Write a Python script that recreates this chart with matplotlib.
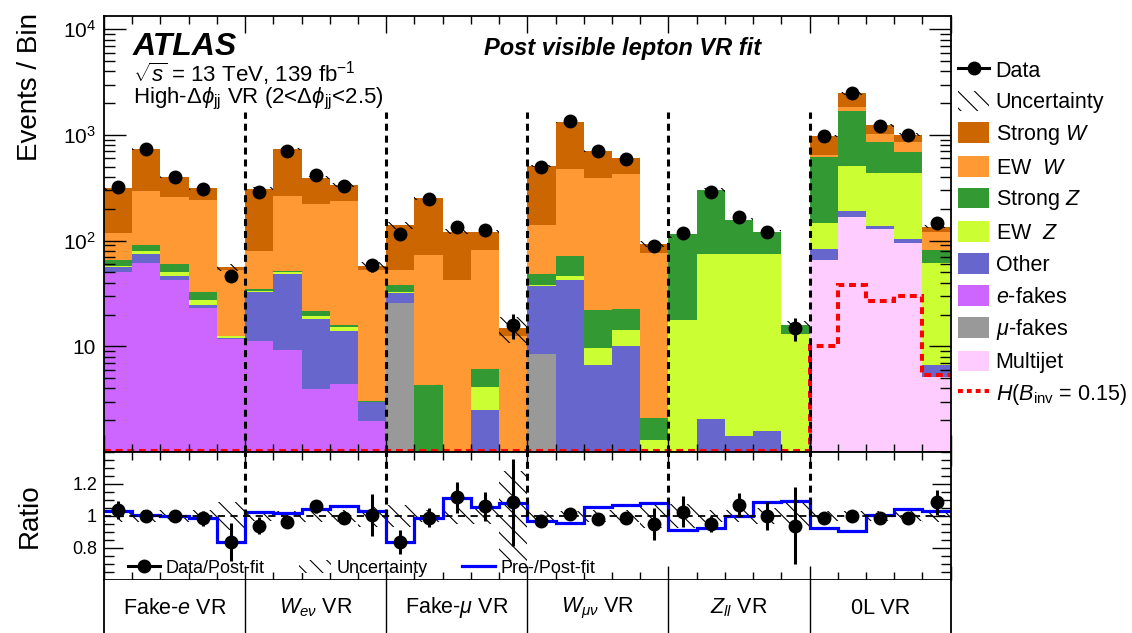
import numpy as np
import matplotlib
matplotlib.use('Agg')
import matplotlib.pyplot as plt
from matplotlib.patches import Patch
from matplotlib.lines import Line2D
from matplotlib.ticker import FixedLocator, NullFormatter, FuncFormatter, MultipleLocator, LogLocator

plt.rcParams['font.family'] = ['Liberation Sans', 'DejaVu Sans']
plt.rcParams['mathtext.fontset'] = 'custom'
plt.rcParams['mathtext.rm'] = 'Liberation Sans'
plt.rcParams['mathtext.it'] = 'Liberation Sans:italic'
plt.rcParams['mathtext.bf'] = 'Liberation Sans:bold'
plt.rcParams['hatch.linewidth'] = 0.8

# ---------------- data ----------------
regions = ["Fake-$e$ VR", r"$W_{e\nu}$ VR", r"Fake-$\mu$ VR", r"$W_{\mu\nu}$ VR", r"$Z_{ll}$ VR", "0L VR"]
bins_per_region = 5

multijet = [0]*25 + [66, 169, 129, 95, 5.1]
mu_fakes = [0]*10 + [25.7, 0, 0, 0, 0, 8.5, 0, 0, 0, 0] + [0]*10
e_fakes = [50, 61.4, 42.7, 23.2, 11.6, 11.3, 9.3, 3.95, 4.4, 1.95] + [0]*20
other = [5.8, 13.2, 3.9, 1.6, 0.5, 21.1, 39, 14.25, 9.5, 1.0,
         6.3, 0, 0, 2.47, 0, 28.4, 42, 6.7, 10.15, 0,
         0, 2.07, 1.43, 1.57, 0, 17, 23, 10, 8, 1.5]
ew_z = [2.2, 4.4, 3.4, 2.8, 0.3, 1.0, 1.7, 1.0, 1.4, 0.04,
        0.3, 0, 0, 1.66, 0, 0.8, 4, 2.9, 4.05, 1.3,
        17.6, 73, 72.6, 73.4, 13.2, 64, 318, 302, 333, 55.4]
strong_z = [7.6, 12.4, 10.5, 4.8, 0.2, 1.6, 2.0, 2.5, 0.7, 0.05,
            5.5, 4.35, 0, 2.0, 0, 11.1, 26, 12.3, 8.3, 0.8,
            97.4, 228, 84, 45, 2.6, 470, 1180, 425, 256, 19]
ew_w = [52.4, 206.6, 197.5, 207.6, 40, 44, 210, 200, 219, 50,
        14.5, 69.3, 42.7, 76, 12.4, 92, 407, 373, 406.5, 75,
        0, 0, 0, 0, 0, 32, 142, 150, 174, 41]
strong_w = [196, 442, 146, 74, 3.2, 230, 473, 173, 100, 5,
            87, 179, 79, 38, 2.5, 369, 861, 317, 175, 16,
            0, 0, 0, 0, 0, 331, 653, 214, 136, 14]

data = [325, 735, 399, 309, 46.2, 291, 705, 422, 330, 58.6,
        116, 248, 135, 127, 16.0, 494, 1350, 698, 596, 88,
        117, 287, 169, 120, 14.9, 975, 2485, 1210, 990, 147]

h_signal = [1.0]*25 + [10, 38, 27, 30, 5.3]

unc_rel = [0.04, 0.035, 0.035, 0.04, 0.085, 0.03, 0.03, 0.035, 0.04, 0.07,
           0.07, 0.04, 0.05, 0.05, 0.28, 0.03, 0.03, 0.035, 0.035, 0.075,
           0.075, 0.04, 0.04, 0.05, 0.09, 0.03, 0.03, 0.03, 0.03, 0.04]

ratio = [1.037, 1.0, 1.0, 0.985, 0.835, 0.94, 0.965, 1.06, 0.99, 1.006,
         0.84, 0.99, 1.117, 1.06, 1.085, 0.969, 1.012, 0.98, 0.99, 0.948,
         1.027, 0.95, 1.069, 1.0, 0.94, 0.99, 1.002, 0.985, 0.99, 1.085]
ratio_err = [0.057, 0.02, 0.03, 0.049, 0.119, 0.055, 0.02, 0.042, 0.04, 0.13,
             0.075, 0.059, 0.098, 0.092, 0.27, 0.03, 0.02, 0.03, 0.03, 0.099,
             0.096, 0.052, 0.073, 0.089, 0.243, 0.025, 0.02, 0.025, 0.025, 0.078]
pre_post = [1.033, 1.005, 0.998, 0.985, 0.84, 1.023, 1.017, 1.044, 1.065, 1.033,
            0.835, 0.99, 1.115, 1.058, 1.083, 0.969, 0.958, 1.054, 1.069, 1.083,
            0.9125, 0.923, 1.0, 1.09, 1.094, 0.923, 0.908, 1.006, 1.042, 1.031]

# ---------------- styles ----------------
components = [
    ("Multijet", multijet, "#FFCCFF"),
    (r"$\mu$-fakes", mu_fakes, "#999999"),
    (r"$e$-fakes", e_fakes, "#CC66FF"),
    ("Other", other, "#6666CC"),
    (r"EW  $Z$", ew_z, "#CCFF33"),
    (r"Strong $Z$", strong_z, "#339933"),
    (r"EW  $W$", ew_w, "#FF9933"),
    (r"Strong $W$", strong_w, "#CC6600"),
]

nb = len(data)
edges = np.arange(nb + 1)
centers = edges[:-1] + 0.5
W, H = 1132, 633
fig = plt.figure(figsize=(W/100, H/100), dpi=100)

L, R = 104, 950.7
ax = fig.add_axes([L/W, 1-452/H, (R-L)/W, (452-16)/H])
axr = fig.add_axes([L/W, 1-580/H, (R-L)/W, (580-452)/H])
axl = fig.add_axes([L/W, 1-650/H, (R-L)/W, (650-580)/H])

ymin, ymax = 1.0, 1.335e4
ax.set_yscale('log')
ax.set_xlim(0, nb)
ax.set_ylim(ymin, ymax)

bottom = np.full(nb, 1e-3)
legend_patches = {}
for label, vals, col in components:
    v = np.asarray(vals, float)
    top = bottom + v
    ax.stairs(top, edges, baseline=bottom, fill=True, color=col, linewidth=0)
    legend_patches[label] = Patch(facecolor=col, edgecolor='none')
    bottom = top
total = bottom
u = np.asarray(unc_rel)
ax.stairs(total*(1+u), edges, baseline=total*(1-u), fill=True, facecolor='none',
          edgecolor='black', hatch='\\\\', linewidth=0)

# signal
hs = np.maximum(np.asarray(h_signal), ymin*1.025)
ax.stairs(hs, edges, baseline=None, color='#FF0000', linewidth=2.9, linestyle=(0, (1.7, 1.2)))

# data
d = np.asarray(data)
ax.errorbar(centers, d, yerr=d*np.asarray(ratio_err), fmt='o', color='black', ms=9,
            elinewidth=2.2, capsize=0)

# region separators
for k in range(1, len(regions)):
    xb = k*bins_per_region
    ax.plot([xb, xb], [ymin, 1650], color='black', lw=2.2, linestyle=(0, (2.3, 1.6)))
    axr.plot([xb, xb], [1.0, 1.4], color='black', lw=2.2, linestyle=(0, (2.3, 1.6)))
    axl.axvline(xb, color='black', lw=1.0)

# ticks main
for a in (ax, axr):
    a.xaxis.set_major_locator(MultipleLocator(bins_per_region))
    a.xaxis.set_minor_locator(MultipleLocator(1))
    a.xaxis.set_major_formatter(NullFormatter())
    a.tick_params(which='both', direction='in', top=True, right=True, width=1.0)
    for s in a.spines.values():
        s.set_linewidth(1.3)
ax.tick_params(axis='x', which='major', length=12)
ax.tick_params(axis='x', which='minor', length=6)
ax.tick_params(axis='y', which='major', length=16, labelsize=15, pad=6)
ax.tick_params(axis='y', which='minor', length=8)
ax.yaxis.set_major_locator(LogLocator(base=10, numticks=10))
ax.yaxis.set_minor_locator(LogLocator(base=10, subs=np.arange(2, 10), numticks=20))
ax.yaxis.set_minor_formatter(NullFormatter())

def logfmt(v, pos):
    e = int(round(np.log10(v)))
    if e == 0:
        return ""
    if e == 1:
        return "10"
    return r"$\mathregular{10^{%d}}$" % e
ax.yaxis.set_major_formatter(FuncFormatter(logfmt))

# ratio panel
axr.set_xlim(0, nb)
axr.set_ylim(0.6, 1.4)
axr.stairs(1+u, edges, baseline=1-u, fill=True, facecolor='none', edgecolor='black',
           hatch='\\\\', linewidth=0)
axr.axhline(1.0, color='black', lw=1.3, linestyle=(0, (4, 3)))
axr.stairs(pre_post, edges, baseline=None, color='#0000FF', linewidth=2.3)
axr.errorbar(centers, ratio, yerr=ratio_err, fmt='o', color='black', ms=9,
             elinewidth=2.2, capsize=0)
axr.yaxis.set_major_locator(FixedLocator([0.8, 1.0, 1.2]))
axr.yaxis.set_minor_locator(MultipleLocator(0.05))
axr.yaxis.set_major_formatter(FuncFormatter(lambda v, p: {0.8: "0.8", 1.0: "1", 1.2: "1.2"}.get(round(v, 2), "")))
axr.tick_params(axis='y', which='major', length=14, labelsize=13, pad=5)
axr.tick_params(axis='y', which='minor', length=7)
axr.tick_params(axis='x', which='major', length=10)
axr.tick_params(axis='x', which='minor', length=6)

rh = [Line2D([], [], color='black', marker='o', ms=9, lw=2.2),
      Patch(facecolor='white', edgecolor='black', hatch='\\\\', linewidth=0),
      Line2D([], [], color='#0000FF', lw=2.3)]
axr.legend(rh, ["Data/Post-fit", "Uncertainty", "Pre-/Post-fit"], loc='lower left',
           bbox_to_anchor=(0.028, 0.025), ncol=3, frameon=False, fontsize=13,
           handlelength=1.8, handletextpad=0.3, columnspacing=1.9,
           borderpad=0, borderaxespad=0)

# label strip
axl.set_xlim(0, nb)
axl.set_ylim(0, 1)
axl.set_xticks([]); axl.set_yticks([])
axl.spines['bottom'].set_visible(False)
axl.spines['top'].set_visible(False)
for s in ('left', 'right'):
    axl.spines[s].set_linewidth(1.3)
for k, name in enumerate(regions):
    axl.text(k*bins_per_region + bins_per_region/2, 1 - 28/70, name, ha='center', va='center', fontsize=15.5)

# texts
def ft(x, y, s, **kw):
    fig.text(x/W, 1-y/H, s, **kw)
ft(133, 55, "ATLAS", fontsize=23, fontweight='bold', fontstyle='italic')
ft(133, 82, r"$\sqrt{s}$ = 13 TeV, 139 fb$^{-1}$", fontsize=16)
ft(133, 103, r"High-$\Delta\phi_{\mathrm{jj}}$ VR (2<$\Delta\phi_{\mathrm{jj}}$<2.5)", fontsize=16)
ft(623, 48, "Post visible lepton VR fit", fontsize=17, fontweight='bold', fontstyle='italic', ha='center', va='center')
ft(30, 87, "Events / Bin", fontsize=20, rotation=90, ha='center', va='center')
ft(30, 516, "Ratio", fontsize=20, rotation=90, ha='center', va='center')

# main legend
handles = [Line2D([], [], color='black', marker='o', ms=9, lw=2.2),
           Patch(facecolor='white', edgecolor='black', hatch='\\\\', linewidth=0)]
labels = ["Data", "Uncertainty"]
for label in [r"Strong $W$", r"EW  $W$", r"Strong $Z$", r"EW  $Z$", "Other",
              r"$e$-fakes", r"$\mu$-fakes", "Multijet"]:
    handles.append(legend_patches[label]); labels.append(label)
handles.append(Line2D([], [], color='#FF0000', lw=2.9, linestyle=(0, (1.2, 1.0))))
labels.append(r"$H(B_{\mathrm{inv}}$ = 0.15)")
fig.legend(handles, labels, loc='upper left', bbox_to_anchor=(958/W, 1-59/H),
           frameon=False, fontsize=15.5, handlelength=1.45, handleheight=1.1,
           handletextpad=0.3, labelspacing=0.42, borderaxespad=0, borderpad=0)

fig.savefig('out.png', dpi=100)
